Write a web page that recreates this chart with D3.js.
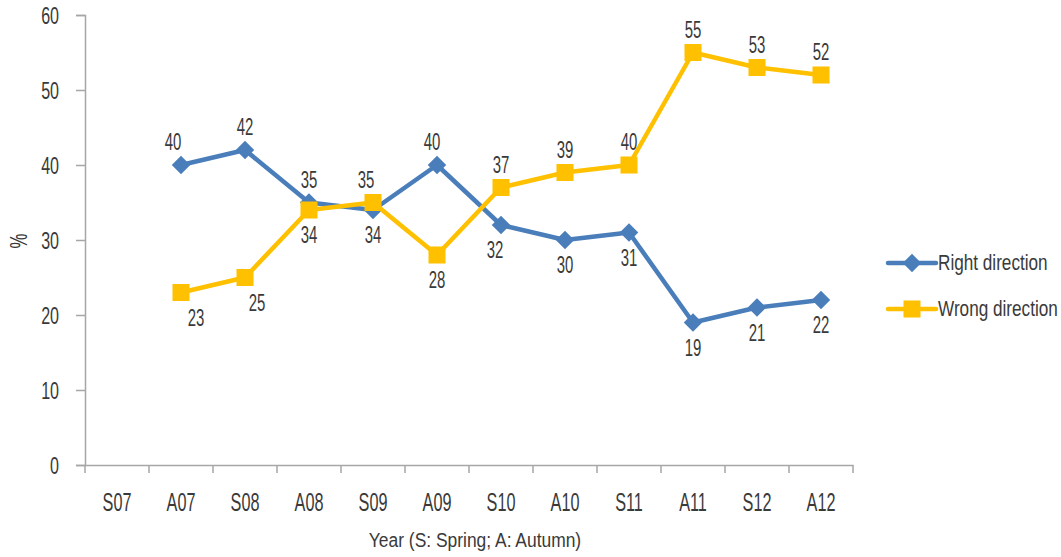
<!DOCTYPE html>
<html>
<head>
<meta charset="utf-8">
<script src="https://cdn.jsdelivr.net/npm/d3@7/dist/d3.min.js"></script>
<style>
  body { margin: 0; background: #fff; }
  text { font-family: "Liberation Sans", Arial, sans-serif; fill: #3a3a3a; }
</style>
</head>
<body>
<div id="wrapper"></div>
<script>
// data
const categories = ["S07", "A07", "S08", "A08", "S09", "A09", "S10", "A10", "S11", "A11", "S12", "A12"]
const rightDirection = [null, 40, 42, 35, 34, 40, 32, 30, 31, 19, 21, 22]
const wrongDirection = [null, 23, 25, 34, 35, 28, 37, 39, 40, 55, 53, 52]
const yTicks = [0, 10, 20, 30, 40, 50, 60]

const series = [
  { name: "Right direction", values: rightDirection, other: wrongDirection, color: "#4a7ebb", marker: "diamond" },
  { name: "Wrong direction", values: wrongDirection, other: rightDirection, color: "#ffc000", marker: "square" },
]

// a few hand nudges for label placement (x offset in px), keyed by series + index
const labelNudge = {
  "Right direction-1": -8, "Wrong direction-1": 15, "Wrong direction-2": 12,
  "Wrong direction-4": -7, "Right direction-5": -5, "Right direction-6": -6,
}

// horizontal squeeze factors, to get a condensed look from a regular face
const SX_NUM = 0.67
const SX_LEGEND = 0.78
const SX_TITLE = 0.83

function squeeze(sel, sx) {
  sel.each(function() {
    const t = d3.select(this)
    const x = +t.attr("x") || 0
    t.attr("x", x / sx).attr("transform", `scale(${sx},1)`)
  })
}

// dimensions
let dimensions = {
  width: 1061,
  height: 557,
  margin: { top: 15, right: 208, bottom: 92, left: 85 },
}
dimensions.boundedWidth = dimensions.width - dimensions.margin.left - dimensions.margin.right
dimensions.boundedHeight = dimensions.height - dimensions.margin.top - dimensions.margin.bottom

const svg = d3.select("#wrapper").append("svg")
  .attr("width", dimensions.width)
  .attr("height", dimensions.height)

const bounds = svg.append("g")
  .attr("transform", `translate(${dimensions.margin.left},${dimensions.margin.top})`)

// scales
const xScale = d3.scaleBand()
  .domain(categories)
  .range([0, dimensions.boundedWidth])
  .padding(0)

const yScale = d3.scaleLinear()
  .domain([0, 60])
  .range([dimensions.boundedHeight, 0])

const xCenter = d => xScale(d) + xScale.bandwidth() / 2

// axes
const axisColor = "#a6a6a6"

const yAxis = bounds.append("g")
  .call(d3.axisLeft(yScale).tickValues(yTicks).tickSize(9).tickPadding(17).tickFormat(d3.format("d")))
yAxis.select(".domain").attr("stroke", axisColor).attr("stroke-width", 1.5)
yAxis.selectAll(".tick line").attr("stroke", axisColor).attr("stroke-width", 1.5)
yAxis.selectAll(".tick text")
  .attr("font-size", 24)
  .attr("font-family", null)
  .attr("fill", "#3a3a3a")
  .attr("dy", "0.36em")
  .call(squeeze, SX_NUM)

const xAxis = bounds.append("g")
  .attr("transform", `translate(0,${dimensions.boundedHeight})`)
  .call(d3.axisBottom(xScale).tickSize(0).tickPadding(28).tickSizeOuter(0))
xAxis.select(".domain").attr("stroke", axisColor).attr("stroke-width", 1.5)
xAxis.selectAll(".tick text")
  .attr("font-size", 25)
  .attr("font-family", null)
  .attr("fill", "#3a3a3a")
  .call(squeeze, 0.65)

// category boundary ticks
xAxis.selectAll(".bound-tick")
  .data(categories.concat(["end"]))
  .enter().append("line")
    .attr("class", "bound-tick")
    .attr("x1", (d, i) => i < categories.length ? xScale(d) : dimensions.boundedWidth)
    .attr("x2", (d, i) => i < categories.length ? xScale(d) : dimensions.boundedWidth)
    .attr("y1", 0)
    .attr("y2", 8)
    .attr("stroke", axisColor)
    .attr("stroke-width", 1.5)

// axis titles
svg.append("text")
  .attr("x", 475)
  .attr("y", 547)
  .attr("text-anchor", "middle")
  .attr("font-size", 21)
  .text("Year (S: Spring; A: Autumn)")
  .call(squeeze, SX_TITLE)

svg.append("text")
  .attr("transform", "translate(27,241) rotate(-90) scale(0.7,1)")
  .attr("text-anchor", "middle")
  .attr("font-size", 24)
  .text("%")

// markers
const diamond = d3.symbol().type(d3.symbolSquare).size(170)
const square = d3.symbol().type(d3.symbolSquare).size(290)

function drawMarker(g, s) {
  if (s.marker === "diamond") {
    g.append("path").attr("d", diamond()).attr("transform", "rotate(45)").attr("fill", s.color)
  } else {
    g.append("path").attr("d", square()).attr("fill", s.color)
  }
}

// lines
const lineGenerator = d3.line()
  .defined(d => d.v != null)
  .x(d => xCenter(d.c))
  .y(d => yScale(d.v))

series.forEach(s => {
  const pts = categories.map((c, i) => ({ c, v: s.values[i], o: s.other[i], i }))
  const g = bounds.append("g")

  g.append("path")
    .datum(pts)
    .attr("d", lineGenerator)
    .attr("fill", "none")
    .attr("stroke", s.color)
    .attr("stroke-width", 4.5)
    .attr("stroke-linejoin", "round")

  g.selectAll(".marker")
    .data(pts.filter(d => d.v != null))
    .enter().append("g")
      .attr("class", "marker")
      .attr("transform", d => `translate(${xCenter(d.c)},${yScale(d.v)})`)
      .each(function() { drawMarker(d3.select(this), s) })
})

// data labels: higher value above the point, lower value below
series.forEach(s => {
  const pts = categories.map((c, i) => ({ c, v: s.values[i], o: s.other[i], i }))
  bounds.append("g").selectAll("text")
    .data(pts.filter(d => d.v != null))
    .enter().append("text")
      .attr("x", d => xCenter(d.c) + (labelNudge[`${s.name}-${d.i}`] || 0))
      .attr("y", d => yScale(d.v) + (d.v >= d.o ? -14.5 : 33.5))
      .attr("text-anchor", "middle")
      .attr("font-size", 23)
      .text(d => d.v)
      .call(squeeze, 0.65)
})

// legend
const legend = svg.append("g")
  .attr("transform", "translate(888,0)")

const legendY = [263, 309]
series.forEach((s, i) => {
  const row = legend.append("g").attr("transform", `translate(0,${legendY[i]})`)
  row.append("line")
    .attr("x1", 0).attr("x2", 48)
    .attr("stroke", s.color)
    .attr("stroke-width", 4.5)
    .attr("stroke-linecap", "round")
  const m = row.append("g").attr("transform", "translate(24,0)")
  drawMarker(m, s)
  row.append("text")
    .attr("x", 50)
    .attr("y", 7)
    .attr("font-size", 22)
    .text(s.name)
    .call(squeeze, SX_LEGEND)
})
</script>
</body>
</html>
